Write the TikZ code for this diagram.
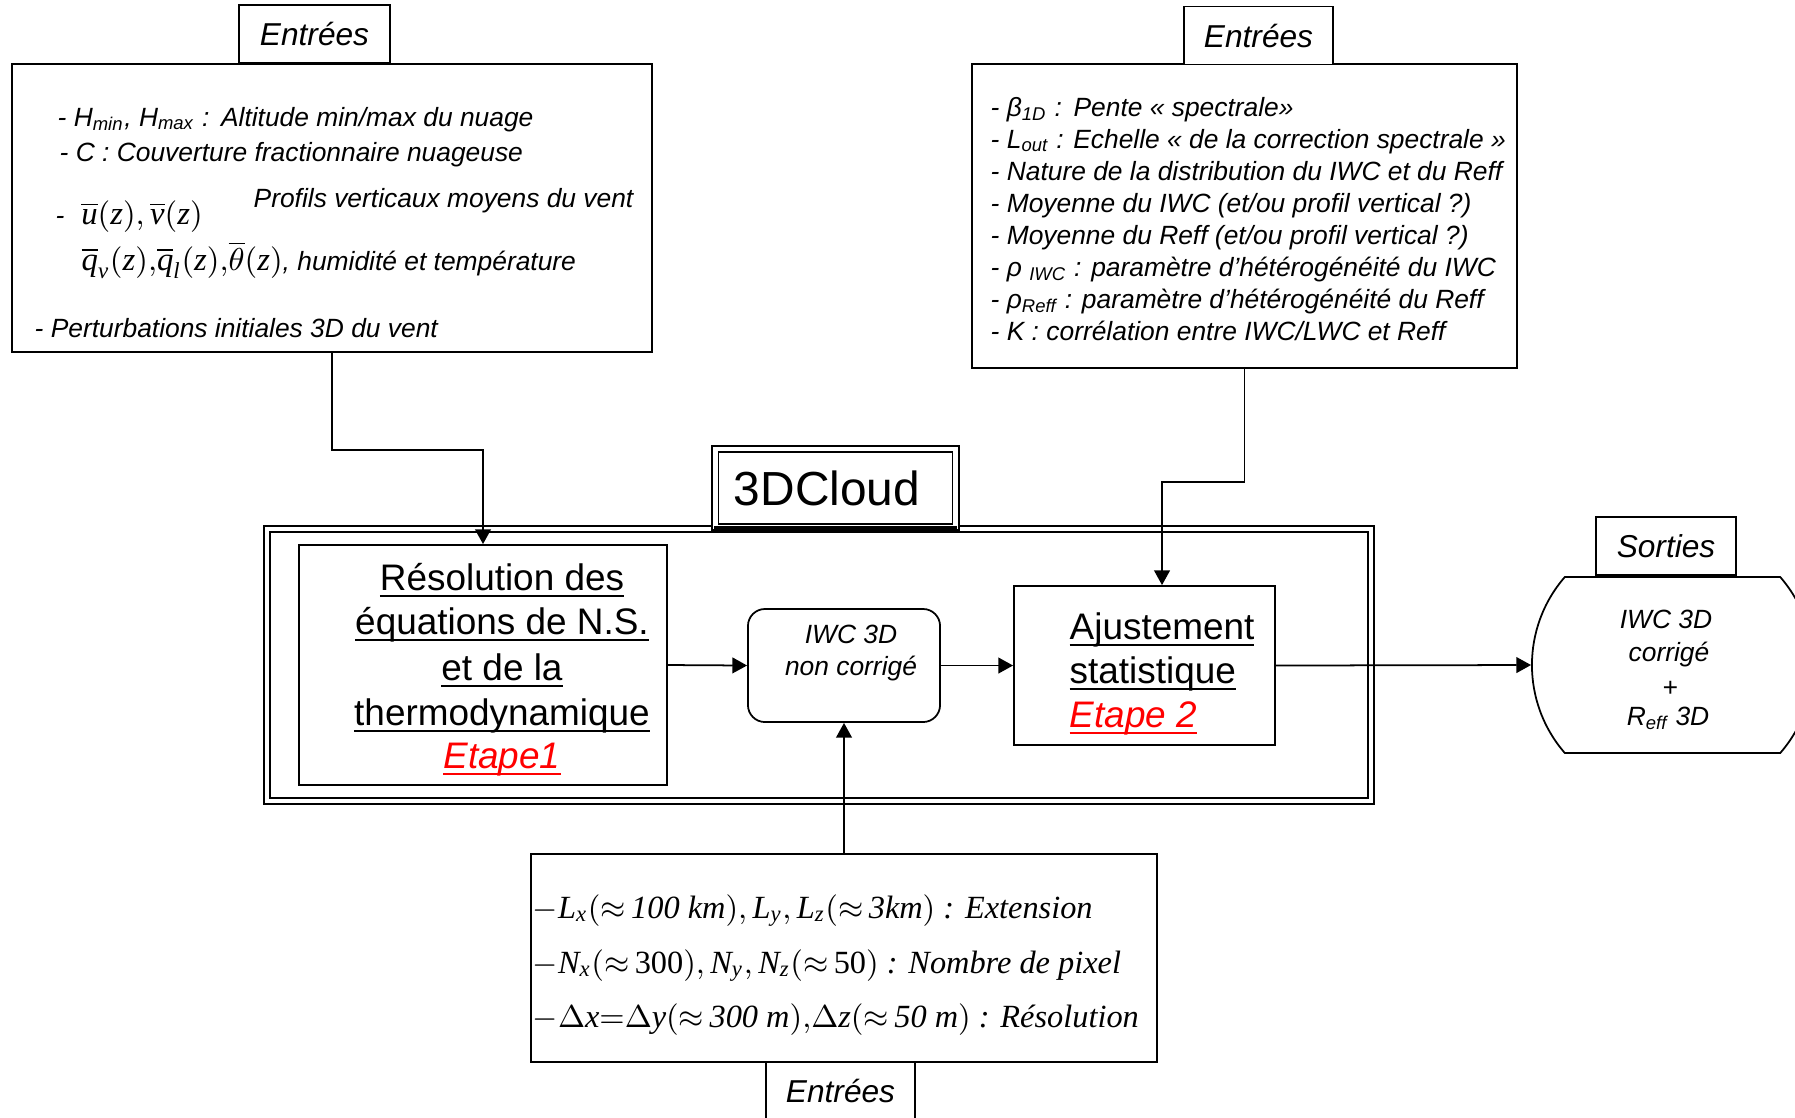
\documentclass[tikz,border=0pt]{standalone}
\usepackage{amsmath}
\usepackage[no-math]{fontspec}
\setmainfont{Liberation Sans}
\newfontfamily\tms{Liberation Serif}
\usetikzlibrary{positioning,arrows.meta,shapes.misc}

\newcommand{\uln}[1]{\leavevmode\setbox0=\hbox{#1}\rlap{\rule[-2.1pt]{\wd0}{0.75pt}}\box0}
\newcommand{\tvar}[1]{\text{\tms\itshape #1}}
\newcommand{\tnum}[1]{\text{\tms\upshape #1}}

\tikzset{
  inbox/.style={draw, line width=0.5pt, inner sep=0pt},
  lblbox/.style={draw, fill=white, line width=0.5pt, inner sep=0pt,
    minimum width=1.49cm, minimum height=0.58cm,
    font=\fontsize{9}{10}\selectfont\itshape},
  dbox/.style={draw, line width=0.55pt, double, double distance=1.2pt, inner sep=0pt},
  arr/.style={-{Triangle[length=4.2pt,width=4.5pt]}, line width=0.5pt},
  txt/.style={anchor=base west, inner sep=0pt, font=\fontsize{7.5}{9}\selectfont\itshape},
  txtc/.style={anchor=base, inner sep=0pt, font=\fontsize{7.5}{9}\selectfont\itshape},
  bigtxt/.style={anchor=base, inner sep=0pt, font=\fontsize{10.5}{12}\selectfont},
  eqtxt/.style={anchor=base west, inner sep=0pt, font=\fontsize{9.2}{11}\selectfont\tms\itshape}
}

\begin{document}
\begin{tikzpicture}[x=0.01cm,y=-0.01cm]
	\clip (0,0) rectangle (1795,1117);
	% entrees du haut
	\node[inbox, minimum width=6.4cm, minimum height=2.88cm] (inL) at (332,208) {};
	\node[lblbox, minimum width=1.51cm] (entL) at (314.5,34) {Entrées};
	\node[txt] (l1) at (57,126) {- H\textsubscript{min}, H\textsubscript{max} :\ \,Altitude min/max du nuage};
	\node[txt] (l2) at (59,161) {- C : Couverture fractionnaire nuageuse};
	\node[txt] (l3) at (55,224) {-\hspace{4.8pt}{\fontsize{9.3}{12}\selectfont$\overline{\tvar{u}}(\tvar{z}),\overline{\tvar{v}}(\tvar{z})$}};
	\node[txt] (l4) at (253,207) {Profils verticaux moyens du vent};
	\node[txt] (l5) at (81,270) {{\fontsize{9.3}{12}\selectfont$\overline{\tvar{q}}_{\tvar{v}}(\tvar{z}),\!\overline{\tvar{q}}_{\tvar{l}}(\tvar{z}),\!\overline{\theta}(\tvar{z})$}, humidité et température};
	\node[txt] (l6) at (34,337) {- Perturbations initiales 3D du vent};

	\node[inbox, minimum width=5.45cm, minimum height=3.04cm] (inR) at (1244.5,216) {};
	\node[lblbox] (entR) at (1258.5,35.5) {Entrées};
	\node[txt] (r1) at (990,116) {- β\textsubscript{1D} :\ \,Pente « spectrale»};
	\node[txt] (r2) at (990,148) {- L\textsubscript{out} : Echelle « de la correction spectrale »};
	\node[txt] (r3) at (990,180) {- Nature de la distribution du IWC et du Reff};
	\node[txt] (r4) at (990,212) {- Moyenne du IWC (et/ou profil vertical ?)};
	\node[txt] (r5) at (990,244) {- Moyenne du Reff (et/ou profil vertical ?)};
	\node[txt] (r6) at (990,276) {- ρ \textsubscript{IWC} : paramètre d’hétérogénéité du IWC};
	\node[txt] (r7) at (990,308) {- ρ\textsubscript{Reff} : paramètre d’hétérogénéité du Reff};
	\node[txt] (r8) at (990,340) {- K : corrélation entre IWC/LWC et Reff};

	% bloc 3DCloud
	\node[dbox, minimum width=11.04cm, minimum height=2.72cm] (frame) at (819,665) {};
	\node[dbox, fill=white, minimum width=2.4cm, minimum height=0.78cm] (cloud) at (835.5,488) {};
	\draw[line width=1.4pt] (cloud.south west) -- (cloud.south east);
	\node[anchor=base, inner sep=0pt, font=\fontsize{13.6}{15}\selectfont] (cloudtxt) at (827,505) {3DCloud};

	\node[inbox, minimum width=3.68cm, minimum height=2.4cm] (resol) at (483,665) {};
	\node[bigtxt] (s1) at (502,590) {\uln{Résolution des}};
	\node[bigtxt] (s2) at (502,634) {\uln{équations de N.S.}};
	\node[bigtxt] (s3) at (502,680) {\uln{et de la}};
	\node[bigtxt] (s4) at (502,725) {\uln{thermodynamique}};
	\node[bigtxt, text=red] (s5) at (502,768) {\uln{\textit{Etape1}}};

	\node[inbox, rounded corners=0.17cm, minimum width=1.92cm, minimum height=1.13cm] (iwc) at (844,665.5) {};
	\node[txtc] (i1) at (851,643) {IWC 3D};
	\node[txtc] (i2) at (851,675) {non corrigé};

	\node[inbox, minimum width=2.61cm, minimum height=1.59cm] (ajust) at (1144.5,665.5) {};
	\node[bigtxt, anchor=base west] (a1) at (1069,639) {\uln{Ajustement}};
	\node[bigtxt, anchor=base west] (a2) at (1069,683) {\uln{statistique}};
	\node[bigtxt, anchor=base west, text=red] (a3) at (1069,727) {\uln{\textit{Etape 2}}};

	% sorties
	\node[inbox, rounded rectangle, rounded rectangle arc length=82,
	      minimum width=2.81cm, minimum height=1.76cm] (out) at (1672.5,665) {};
	\node[lblbox, minimum width=1.4cm] (sort) at (1666,546) {Sorties};
	\node[txtc] (o1) at (1666,628) {IWC 3D};
	\node[txtc] (o2) at (1669,661) {corrigé};
	\node[txtc] (o3) at (1670,696) {+};
	\node[txtc] (o4) at (1668,725) {R\textsubscript{eff} 3D};

	% entrees du bas
	\node[inbox, minimum width=6.26cm, minimum height=2.08cm] (inB) at (844,958) {};
	\node[lblbox] (entB) at (840.5,1091) {Entrées};
	\node[eqtxt] (b1) at (532,918) {$-\tvar{L}_{\tvar{x}}({\approx}\,\tvar{100 km}),\tvar{L}_{\tvar{y}},\tvar{L}_{\tvar{z}}({\approx}\,\tvar{3km})$\ : Extension};
	\node[eqtxt] (b2) at (532,973) {$-\tvar{N}_{\tvar{x}}({\approx}\,\tnum{300}),\tvar{N}_{\tvar{y}},\tvar{N}_{\tvar{z}}({\approx}\,\tnum{50})$\ : Nombre de pixel};
	\node[eqtxt] (b3) at (532,1027) {$-\Delta\tvar{x}{=}\Delta\tvar{y}({\approx}\,\tvar{300 m}),\!\Delta\tvar{z}({\approx}\,\tvar{50 m})$\ : Résolution};

	% fleches
	\draw[arr] (inL.south) -- ++(0,97) -| (resol.north);
	\draw[arr] (inR.south) -- ++(0,113) -| ([xshift=0.175cm]ajust.north);
	\draw[arr] (resol.east) -- (iwc.west);
	\draw[arr] (iwc.east) -- (ajust.west);
	\draw[arr] (ajust.east) -- (out.west);
	\draw[arr] (inB.north) -- (iwc.south);
\end{tikzpicture}
\end{document}
